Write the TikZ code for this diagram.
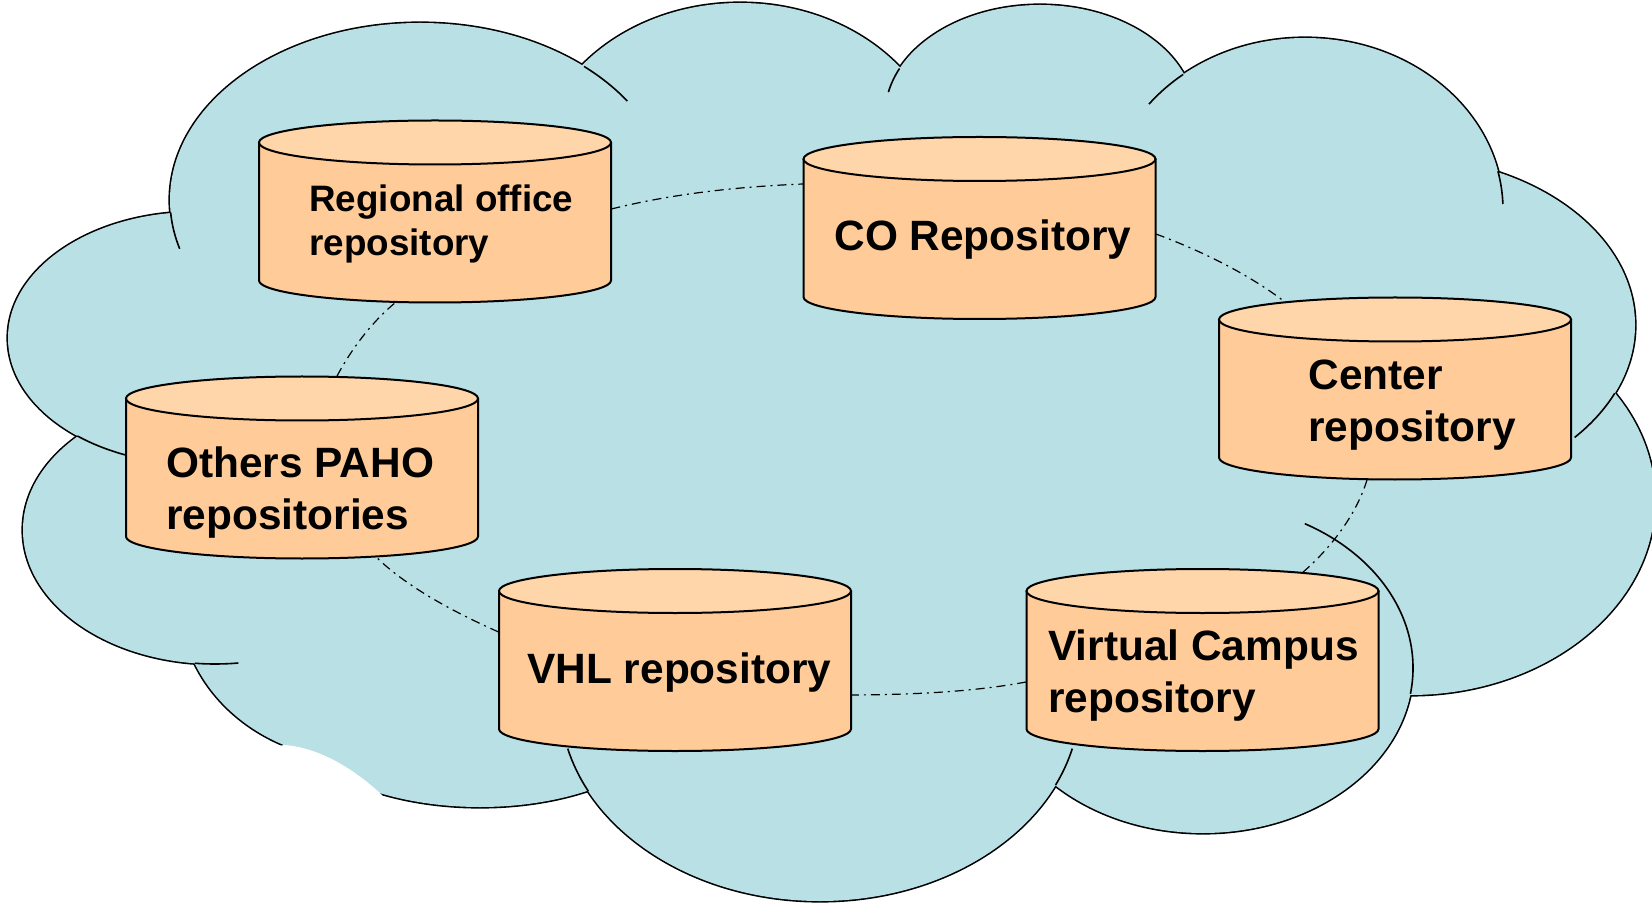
\documentclass[tikz,border=0pt]{standalone}
\usepackage{fontspec}
\setmainfont{Liberation Sans}
\usetikzlibrary{calc}
\definecolor{cloudblue}{RGB}{185,224,228}
\definecolor{cylside}{RGB}{255,204,153}
\definecolor{cyltop}{RGB}{255,214,170}
\tikzset{
  lobe/.style={draw=black, line width=1.6pt},
  lobefill/.style={fill=cloudblue},
  frag/.style={draw=black, line width=0.8pt},
  conn/.style={draw=black, line width=0.6pt, dash pattern=on 4.5pt off 2.5pt on 1pt off 2.5pt},
  cylbody/.style={fill=cylside, draw=black, line width=1pt, line join=round},
  cyltopface/.style={fill=cyltop, draw=black, line width=1pt},
  cylbox/.style={rectangle, inner sep=0pt, minimum width=176pt, minimum height=91pt},
  labelbig/.style={anchor=base west, inner sep=0pt, font=\bfseries\fontsize{21.2}{26}\selectfont},
  labelsmall/.style={anchor=base west, inner sep=0pt, font=\bfseries\fontsize{18.4}{21.8}\selectfont},
}
\newcommand\cloudlobes[1]{%
  \path[#1] (420,200) ellipse[x radius=250, y radius=177];
  \path[#1] (740,175) ellipse[x radius=205, y radius=172];
  \path[#1] (1040,115) ellipse[x radius=155, y radius=110];
  \path[#1] (1305,210) ellipse[x radius=198, y radius=172];
  \path[#1] (1400,325) ellipse[x radius=235, y radius=168];
  \path[#1] (1410,500) ellipse[x radius=245, y radius=195];
  \path[#1] (1203,668) ellipse[x radius=210, y radius=165];
  \path[#1] (820,700) ellipse[x radius=260, y radius=201];
  \path[#1] (480,700) ellipse[x radius=203, y radius=107];
  \path[#1] (360,600) ellipse[x radius=180, y radius=160];
  \path[#1] (215,530) ellipse[x radius=192, y radius=134];
  \path[#1] (195,338) ellipse[x radius=187, y radius=126];
}
\newcommand\repocyl[2]{%
  \path[cylbody] ({#1-176},{#2-69}) -- ({#1-176},{#2+69})
     arc[start angle=180, end angle=0, x radius=176, y radius=22]
     -- ({#1+176},{#2-69}) -- cycle;
  \path[cyltopface] (#1,{#2-69}) ellipse[x radius=176, y radius=22];
}
\newcommand\fragarc[6]{% cx, cy, rx, ry, t1, t2
  \draw[frag] (#1,#2) ++(#5:#3 and #4) arc[start angle=#5, end angle=#6, x radius=#3, y radius=#4];
}
\begin{document}
\begin{tikzpicture}[x=0.5pt, y=-0.5pt]
\useasboundingbox (0,0) rectangle (1652,908);
% cloud: strokes, then fills covering inner halves
\cloudlobes{lobe}
\cloudlobes{lobefill}
\fill[cloudblue] (180,220) -- (581,73) -- (902,70) -- (1184,80) -- (1495,180) -- (1604,401)
  -- (1404,685) -- (1057,784) -- (590,781) -- (308,745) -- (200,657) -- (85,438) -- cycle;
% white bite at lower left
\fill[white] (284,745) .. controls (315,747) and (350,765) .. (382,795) -- (395,830) -- (200,830) -- (200,762) -- cycle;
% inner arc fragments of the cloud
\fragarc{420}{200}{250}{177}{176}{164}
\fragarc{420}{200}{250}{177}{311}{326}
\fragarc{1040}{115}{155}{110}{205}{192}
\fragarc{1305}{210}{198}{172}{232}{218}
\fragarc{1305}{210}{198}{172}{347}{358}
\fragarc{1400}{325}{235}{168}{24}{42}
\fragarc{1203}{668}{210}{165}{299}{369}
\fragarc{820}{700}{260}{201}{25}{14}
\fragarc{820}{700}{260}{201}{153}{166}
\fragarc{215}{530}{192}{134}{96}{83}
\fragarc{195}{338}{187}{126}{129}{110}
% repository nodes
\node[cylbox] (reg) at (435,211.5) {};
\node[cylbox] (co)  at (979.5,228) {};
\node[cylbox] (cen) at (1395,388.5) {};
\node[cylbox] (oth) at (302,467.5) {};
\node[cylbox] (vhl) at (675,660) {};
\node[cylbox] (vc)  at (1202.5,660) {};
% dash-dot ring connectors
\draw[conn] ($(reg.east)+(0,-2.5)$) .. controls +(59.7,-14.9) and +(-66.6,2.7) .. ($(co.west)+(0,-44)$);
\draw[conn] ($(co.east)+(0,6)$) .. controls +(49.6,18.4) and +(-33.5,-25.9) .. ($(cen.north)+(-110,5)$);
\draw[conn] ($(cen.south)+(-28,0)$) .. controls +(-9.6,31.4) and +(31.8,-27.6) .. ($(vc.north)+(100,4)$);
\draw[conn] ($(vc.west)+(0,22)$) .. controls +(-55.8,10.3) and +(59.5,-0.4) .. ($(vhl.east)+(0,35)$);
\draw[conn] ($(vhl.west)+(0,-28)$) .. controls +(-48,-21.3) and +(29.1,28.5) .. ($(oth.south)+(74,-2)$);
\draw[conn] ($(oth.north)+(35,0)$) .. controls +(12.5,-23.6) and +(-25.3,20.9) .. ($(reg.south)+(-40,0)$);
% cylinders
\repocyl{435}{211.5}
\repocyl{979.5}{228}
\repocyl{1395}{388.5}
\repocyl{302}{467.5}
\repocyl{675}{660}
\repocyl{1202.5}{660}
% labels
\node[labelsmall] (reg-t) at (309,212) {\vtop{\hbox{Regional office}\hbox{repository}}};
\node[labelbig] (co-t) at (834,251) {CO Repository};
\node[labelbig] (cen-t) at (1308,390) {\vtop{\hbox{Center}\hbox{repository}}};
\node[labelbig] (oth-t) at (166,477) {\vtop{\hbox{Others PAHO}\hbox{repositories}}};
\node[labelbig] (vhl-t) at (527,683) {VHL repository};
\node[labelbig] (vc-t) at (1048,660) {\vtop{\hbox{Virtual Campus}\hbox{repository}}};
\end{tikzpicture}
\end{document}
